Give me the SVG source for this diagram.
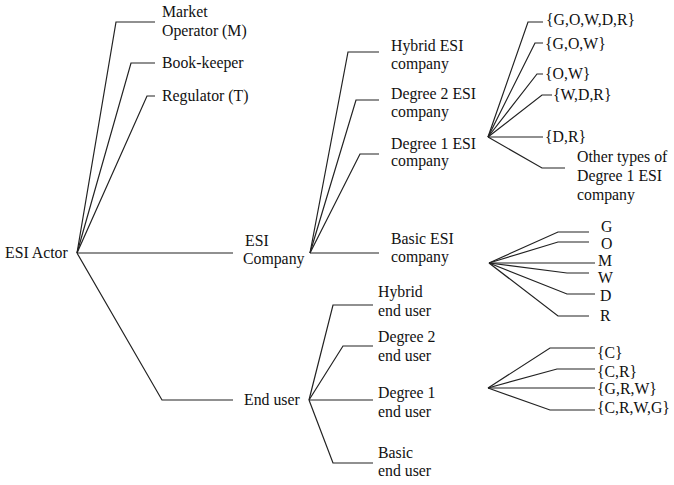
<svg xmlns="http://www.w3.org/2000/svg" width="674" height="485" viewBox="0 0 674 485">
  <style>
    .lbl { font-family: "Liberation Serif", "Times New Roman", serif; font-size: 15.8px; fill: #111; }
    .edge { fill: none; stroke: #222; stroke-width: 1.2; stroke-linejoin: miter; }
  </style>
  <rect width="674" height="485" fill="#fff"/>

  <!-- tree branches: slanted stem, then a short horizontal leader to each label -->
  <g id="connectors" class="edge">
    <!-- ESI Actor -->
    <polyline points="77,253 116,22 155,22"/>
    <polyline points="77,253 131,63 155,63"/>
    <polyline points="77,253 147,96 155,96"/>
    <polyline points="77,253 233,253"/>
    <polyline points="77,253 162,400 233,400"/>
    <!-- ESI Company -->
    <polyline points="310,253 348,52 379,52"/>
    <polyline points="310,253 356,100 379,100"/>
    <polyline points="310,253 360,154 379,154"/>
    <polyline points="310,253 379,253"/>
    <!-- Degree 1 ESI company -->
    <polyline points="488,137 528,22 543,22"/>
    <polyline points="488,137 535,43 543,43"/>
    <polyline points="488,137 537,74 543,74"/>
    <polyline points="488,137 542,95 552,95"/>
    <polyline points="488,137 543,137"/>
    <polyline points="488,137 542,168 565,168"/>
    <!-- Basic ESI company -->
    <polyline points="489,263 558,232 589,232"/>
    <polyline points="489,263 558,242 589,242"/>
    <polyline points="489,263 595,263"/>
    <polyline points="489,263 567,273 589,273"/>
    <polyline points="489,263 567,294 595,294"/>
    <polyline points="489,263 558,316 589,316"/>
    <!-- End user -->
    <polyline points="309,400 333,305 373,305"/>
    <polyline points="309,400 343,346 373,346"/>
    <polyline points="309,400 373,400"/>
    <polyline points="309,400 333,463 373,463"/>
    <!-- Degree 1 end user -->
    <polyline points="488,388 550,348 595,348"/>
    <polyline points="488,388 557,369 595,369"/>
    <polyline points="488,388 595,388"/>
    <polyline points="488,388 550,410 595,410"/>
  </g>

  <g id="esi-actor" class="lbl"><text x="5" y="258">ESI Actor</text></g>

  <g id="market-operator" class="lbl"><text x="162" y="17">Market</text><text x="162" y="36">Operator (M)</text></g>
  <g id="book-keeper" class="lbl"><text x="162" y="68">Book-keeper</text></g>
  <g id="regulator" class="lbl"><text x="162" y="101">Regulator (T)</text></g>

  <g id="esi-company" class="lbl"><text x="245" y="246">ESI</text><text x="243" y="264">Company</text></g>
  <g id="end-user" class="lbl"><text x="244" y="405">End user</text></g>

  <g id="hybrid-esi" class="lbl"><text x="391" y="51">Hybrid ESI</text><text x="391" y="69">company</text></g>
  <g id="degree2-esi" class="lbl"><text x="391" y="99">Degree 2 ESI</text><text x="391" y="117">company</text></g>
  <g id="degree1-esi" class="lbl"><text x="391" y="149">Degree 1 ESI</text><text x="391" y="166">company</text></g>
  <g id="basic-esi" class="lbl"><text x="391" y="244">Basic ESI</text><text x="391" y="262">company</text></g>

  <g id="set-gowdr" class="lbl"><text x="546" y="25">{G,O,W,D,R}</text></g>
  <g id="set-gow" class="lbl"><text x="545" y="49">{G,O,W}</text></g>
  <g id="set-ow" class="lbl"><text x="545" y="79">{O,W}</text></g>
  <g id="set-wdr" class="lbl"><text x="553" y="100">{W,D,R}</text></g>
  <g id="set-dr" class="lbl"><text x="545" y="142">{D,R}</text></g>
  <g id="other-degree1" class="lbl"><text x="577" y="162">Other types of</text><text x="577" y="181">Degree 1 ESI</text><text x="577" y="200">company</text></g>

  <g id="basic-g" class="lbl"><text x="601" y="232">G</text></g>
  <g id="basic-o" class="lbl"><text x="601" y="249">O</text></g>
  <g id="basic-m" class="lbl"><text x="598" y="266">M</text></g>
  <g id="basic-w" class="lbl"><text x="598" y="283">W</text></g>
  <g id="basic-d" class="lbl"><text x="600" y="301">D</text></g>
  <g id="basic-r" class="lbl"><text x="600" y="321">R</text></g>

  <g id="hybrid-end" class="lbl"><text x="378" y="297">Hybrid</text><text x="378" y="316">end user</text></g>
  <g id="degree2-end" class="lbl"><text x="378" y="342">Degree 2</text><text x="378" y="361">end user</text></g>
  <g id="degree1-end" class="lbl"><text x="378" y="398">Degree 1</text><text x="378" y="417">end user</text></g>
  <g id="basic-end" class="lbl"><text x="378" y="458">Basic</text><text x="378" y="476">end user</text></g>

  <g id="set-c" class="lbl"><text x="597" y="358">{C}</text></g>
  <g id="set-cr" class="lbl"><text x="597" y="377">{C,R}</text></g>
  <g id="set-grw" class="lbl"><text x="597" y="394">{G,R,W}</text></g>
  <g id="set-crwg" class="lbl"><text x="597" y="413">{C,R,W,G}</text></g>
</svg>
